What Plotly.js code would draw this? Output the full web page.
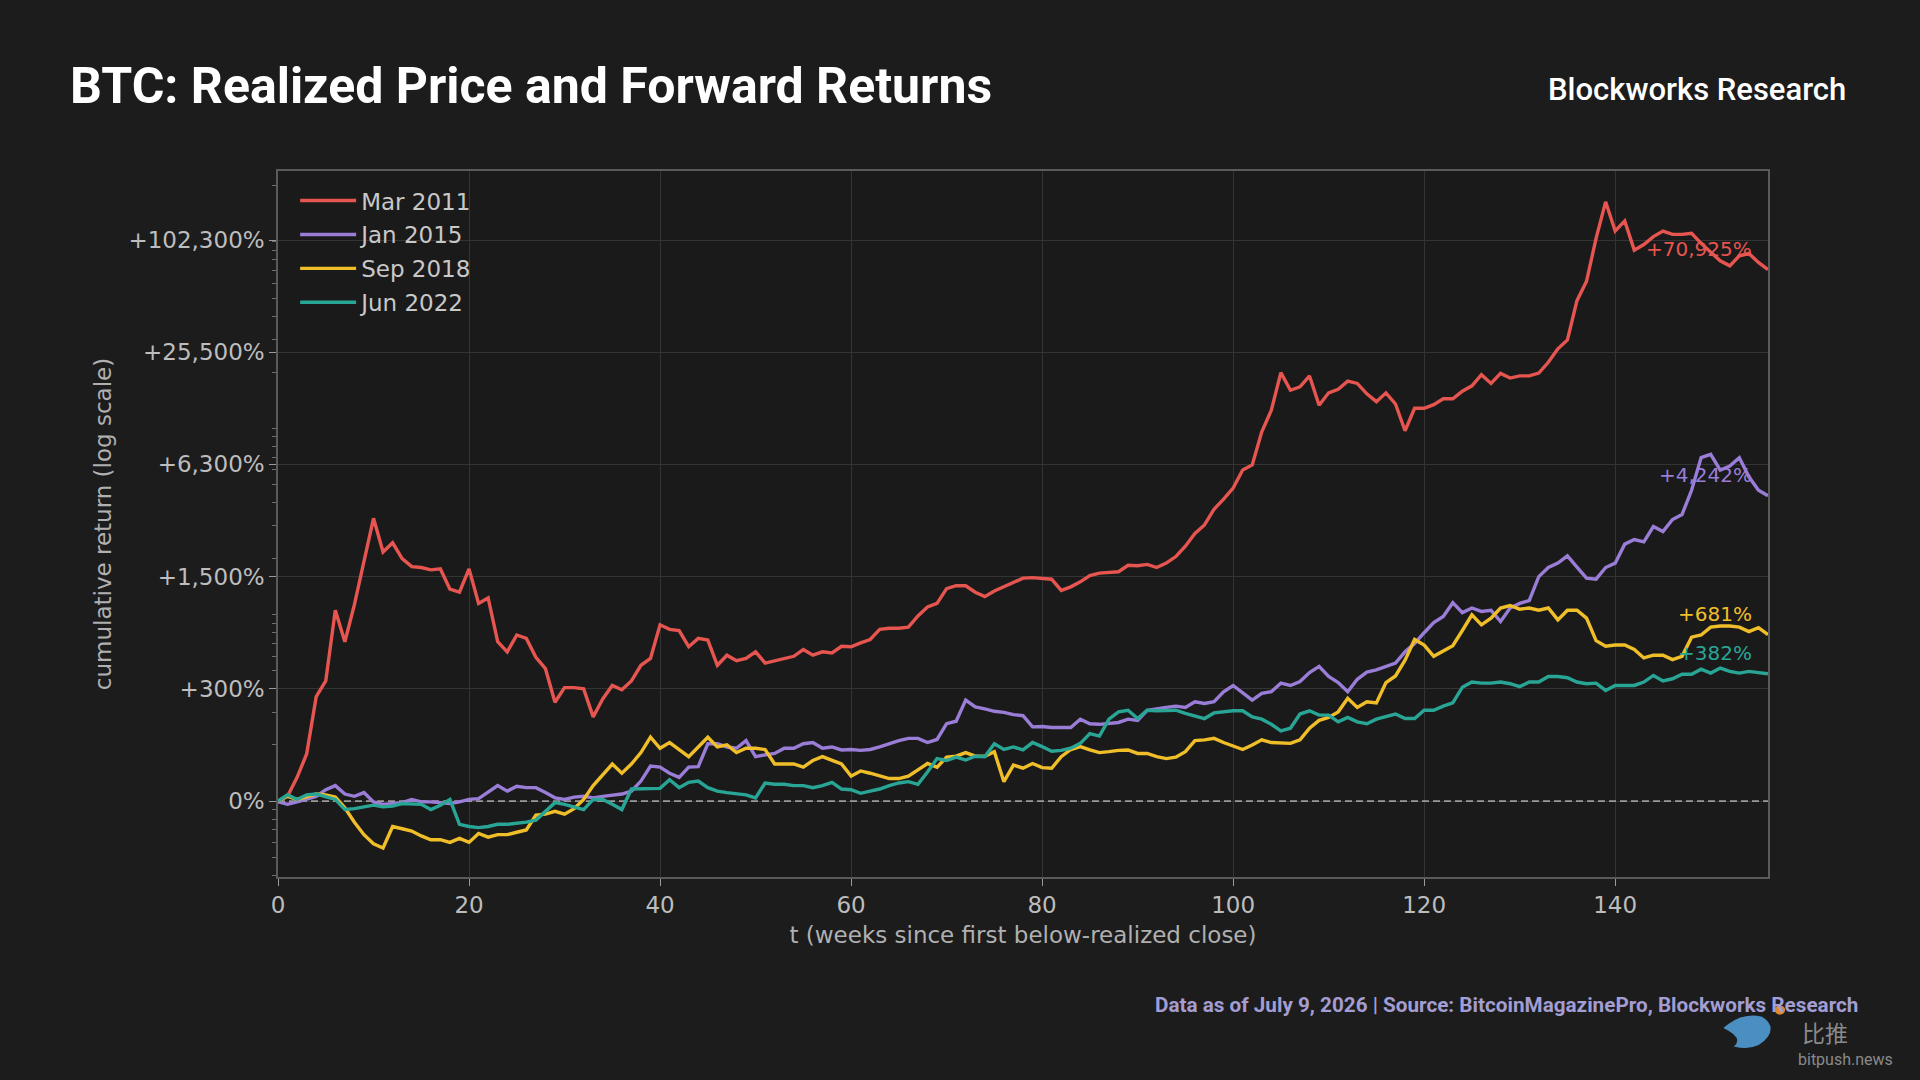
<!DOCTYPE html>
<html>
<head>
<meta charset="utf-8">
<script src="https://cdn.plot.ly/plotly-3.0.1.min.js"></script>
<style>
html,body{margin:0;padding:0;background:#1c1c1c;}
#chart{width:1920px;height:1080px;}
</style>
</head>
<body>
<div id="chart"></div>
<script>
// ---- data (cumulative return in %, weekly, t = 0..156) ----
const seriesNames = ['Mar 2011', 'Jan 2015', 'Sep 2018', 'Jun 2022'];

const mar2011 = [0,6,34,79,263,341,956,616,1031,1870,
  3190,2070,2330,1900,1710,1690,1640,1660,1270,1220,
  1660,1050,1130,616,532,678,646,490,413,239,
  306,306,300,183,253,317,295,341,435,482,
  782,734,722,573,646,631,435,506,466,482,
  532,450,466,482,498,550,506,532,523,577,
  573,606,636,734,746,746,757,885,1000,1050,
  1280,1330,1330,1220,1150,1240,1310,1400,1470,1480,
  1460,1450,1250,1310,1400,1520,1570,1580,1600,1740,
  1730,1760,1690,1790,1950,2230,2630,2930,3580,4070,
  4680,5870,6260,9470,12400,19800,15900,16600,19000,13200,
  15400,16100,17800,17300,15200,13800,15400,13400,9600,12700,
  12700,13300,14300,14300,15700,16800,19300,17300,19600,18500,
  19000,19000,19700,22500,26600,29700,48300,61400,104400,164000,
  114300,129500,90300,96800,106700,114300,109700,109700,111200,98100,
  87800,79100,74300,84200,86600,77500,70925];

const jan2015 = [-1,-4,-1,2,6,15,21,9,6,11,
  -1,-4,-3,-2,2,-1,-1,-2,-3,-1,
  2,3,11,21,13,20,18,18,11,4,
  2,5,6,4,6,8,9,13,28,54,
  52,41,34,52,53,103,103,95,92,111,
  73,77,80,92,92,103,106,92,95,88,
  89,87,89,95,103,111,117,117,106,114,
  160,168,248,220,212,203,199,191,187,150,
  151,148,148,148,175,160,158,160,164,175,
  171,207,214,218,223,218,241,234,241,286,
  317,281,248,278,286,329,317,338,389,428,
  366,332,286,350,392,406,428,450,532,601,
  700,806,878,1060,926,986,941,956,819,986,
  1050,1090,1500,1690,1790,1970,1700,1470,1450,1690,
  1790,2290,2430,2360,2870,2690,3140,3350,4550,6860,
  7150,5870,6170,6860,5390,4550,4242];

const sep2018 = [0,6,2,6,9,8,5,-8,-23,-34,
  -41,-44,-27,-29,-31,-35,-38,-38,-40,-37,
  -40,-33,-36,-34,-34,-32,-30,-16,-15,-12,
  -15,-9,2,21,39,58,41,58,82,120,
  92,106,89,73,95,120,95,100,82,92,
  92,89,58,58,58,52,65,73,65,58,
  36,45,41,36,32,32,36,47,59,52,
  72,74,82,74,74,84,27,56,50,59,
  51,50,73,89,96,88,82,84,87,88,
  80,80,73,69,72,84,111,113,117,106,
  97,89,100,113,106,104,104,113,146,171,
  181,201,256,218,241,236,332,369,470,636,
  587,498,541,582,722,898,782,858,986,1020,
  970,986,956,986,838,956,956,858,626,577,
  587,587,550,486,506,506,474,498,657,678,
  757,770,770,757,711,751,681];

const jun2022 = [0,8,2,8,9,6,2,-10,-9,-7,
  -5,-7,-6,-3,-3,-4,-10,-5,2,-25,
  -27,-28,-27,-25,-25,-24,-23,-21,-12,-2,
  -4,-7,-10,2,2,-4,-10,16,16,16,
  17,30,18,26,28,18,13,11,10,8,
  4,25,23,23,21,21,18,21,26,16,
  15,10,13,16,21,25,27,23,43,69,
  65,72,66,74,73,103,89,95,88,106,
  96,85,87,92,104,130,123,175,201,207,
  177,207,205,205,207,195,187,177,197,201,
  205,205,183,175,158,138,146,193,205,189,
  189,166,181,166,160,175,183,193,177,177,
  207,207,223,236,308,335,329,329,335,326,
  311,335,335,366,366,359,335,326,329,292,
  317,317,317,335,372,341,353,379,379,410,
  386,417,396,386,396,389,382];

const yTickMultiples = [1, 4, 16, 64, 256, 1024];
const yTickLabels = ['0%', '+300%', '+1,500%', '+6,300%', '+25,500%', '+102,300%'];
const xTickValues = [0, 20, 40, 60, 80, 100, 120, 140];

// ---- styling ----
const colors = ['#e6554f', '#9a7dd6', '#f0be28', '#29a596'];
const series = [mar2011, jan2015, sep2018, jun2022];
const weeks = mar2011.map((_, i) => i);
const toMultiple = r => 1 + r / 100;
const lastWeek = weeks[weeks.length - 1];
const baseFont = 'DejaVu Sans, Verdana, sans-serif';

const traces = [{
  x: [weeks[0], lastWeek], y: [1, 1], type: 'scatter', mode: 'lines',
  line: {color: '#9a9a9a', width: 1.8, dash: '7px,4px'},
  showlegend: false, hoverinfo: 'skip'
}];
series.forEach((s, k) => {
  traces.push({
    x: weeks, y: s.map(toMultiple), type: 'scatter', mode: 'lines',
    name: seriesNames[k], legendgroup: 'g' + k,
    line: {color: colors[k], width: 3.4}
  });
});

const annotations = series.map((s, k) => {
  const last = s[s.length - 1];
  return {
    x: lastWeek, y: Math.log10(toMultiple(last)), xref: 'x', yref: 'y',
    text: '+' + last.toLocaleString('en-US') + '%',
    showarrow: false, xanchor: 'right', yanchor: 'middle',
    xshift: -14, yshift: 21,
    font: {family: baseFont, size: 20, color: colors[k]}
  };
});

annotations.push({
  text: 'Blockworks Research', xref: 'paper', yref: 'paper',
  x: 1.054, y: 1.116, xanchor: 'right', yanchor: 'middle', showarrow: false,
  font: {family: 'Roboto, Inter, sans-serif', size: 31, color: '#ffffff', weight: 500}
});
annotations.push({
  text: 'Data as of July 9, 2026 | Source: BitcoinMagazinePro, Blockworks Research',
  xref: 'paper', yref: 'paper', x: 1.062, y: -0.182, xanchor: 'right', yanchor: 'middle',
  showarrow: false,
  font: {family: 'Roboto, Inter, sans-serif', size: 20.7, color: '#a29dd2', weight: 700}
});
annotations.push({
  text: '比推', xref: 'paper', yref: 'paper', x: 1.038, y: -0.219,
  xanchor: 'center', yanchor: 'middle', showarrow: false,
  font: {family: 'Noto Sans CJK SC, sans-serif', size: 23, color: '#8a8a8a'}
});
annotations.push({
  text: 'bitpush.news', xref: 'paper', yref: 'paper', x: 1.052, y: -0.259,
  xanchor: 'center', yanchor: 'middle', showarrow: false,
  font: {family: 'Roboto, sans-serif', size: 16, color: '#8a8a8a'}
});

// small watermark bird (decorative)
const shapes = [
  {type: 'path', xref: 'paper', yref: 'paper', layer: 'above',
   path: 'M 0.970 -0.214 Q 0.983 -0.190 0.996 -0.198 Q 1.005 -0.210 1.000 -0.226 Q 0.993 -0.248 0.977 -0.240 Q 0.984 -0.228 0.970 -0.214 Z',
   fillcolor: '#4a8ec2', line: {width: 0}},
  {type: 'circle', xref: 'paper', yref: 'paper', layer: 'above',
   x0: 1.0045, x1: 1.0115, y0: -0.195, y1: -0.182,
   fillcolor: '#e08a2c', line: {width: 0}}
];

const layout = {
  width: 1920, height: 1080,
  paper_bgcolor: '#1c1c1c', plot_bgcolor: '#1a1a1a',
  margin: {l: 278, r: 152, t: 171, b: 203, pad: 0},
  title: {
    text: '<b>BTC: Realized Price and Forward Returns</b>',
    xref: 'container', yref: 'container', x: 0.0365, y: 0.921,
    xanchor: 'left', yanchor: 'middle',
    font: {family: 'Roboto, Inter, sans-serif', size: 50, color: '#ffffff'}
  },
  showlegend: true,
  legend: {
    x: 0.0115, y: 0.9885, xanchor: 'left', yanchor: 'top',
    bgcolor: 'rgba(0,0,0,0)', borderwidth: 0,
    font: {family: baseFont, size: 23, color: '#c8c8c8'},
    tracegroupgap: 1, itemwidth: 56
  },
  xaxis: {
    range: [0, lastWeek], tickmode: 'array', tickvals: xTickValues,
    showgrid: true, gridcolor: '#343434', gridwidth: 1,
    zeroline: false, showline: true, mirror: true, linecolor: '#5a5a5a', linewidth: 1.5,
    ticks: 'outside', ticklen: 7, tickcolor: '#9a9a9a', tickwidth: 1.2,
    tickfont: {family: baseFont, size: 23, color: '#bdbdbd'},
    title: {text: 't (weeks since first below-realized close)', standoff: 10,
      font: {family: baseFont, size: 23, color: '#b0b0b0'}}
  },
  yaxis: {
    type: 'log', range: [-0.4076, 3.3806],
    tickmode: 'array', tickvals: yTickMultiples, ticktext: yTickLabels,
    showgrid: true, gridcolor: '#343434', gridwidth: 1,
    zeroline: false, showline: true, mirror: true, linecolor: '#5a5a5a', linewidth: 1.5,
    ticks: 'outside', ticklen: 7, tickcolor: '#9a9a9a', tickwidth: 1.2,
    tickfont: {family: baseFont, size: 23, color: '#bdbdbd'},
    minor: {ticks: 'outside', ticklen: 4, tickcolor: '#6e6e6e', dtick: 'D1', showgrid: false},
    title: {text: 'cumulative return (log scale)', standoff: 10,
      font: {family: baseFont, size: 23, color: '#b0b0b0'}}
  },
  annotations: annotations,
  shapes: shapes
};

Plotly.newPlot('chart', traces, layout, {displayModeBar: false, responsive: false});
</script>
</body>
</html>
